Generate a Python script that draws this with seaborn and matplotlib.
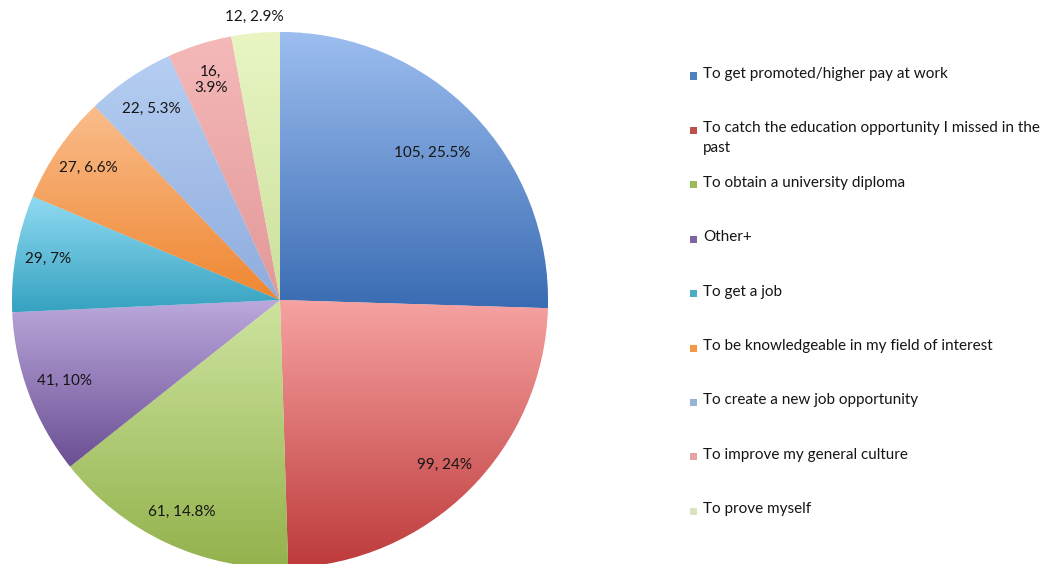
#Pie chart of the reasons people gave for going back to study
import numpy as np
import matplotlib
matplotlib.use("Agg")
import matplotlib.pyplot as plt
from matplotlib.colors import LinearSegmentedColormap
from matplotlib.patches import Rectangle
import seaborn as sns

#the data
reasons = ["To get promoted/higher pay at work",
           "To catch the education opportunity I missed in the\npast",
           "To obtain a university diploma",
           "Other+",
           "To get a job",
           "To be knowledgeable in my field of interest",
           "To create a new job opportunity",
           "To improve my general culture",
           "To prove myself"]
counts = [105, 99, 61, 41, 29, 27, 22, 16, 12]
percents = [25.5, 24, 14.8, 10, 7, 6.6, 5.3, 3.9, 2.9]

#colours: legend colour plus a light (top) and dark (bottom) gradient colour for every slice
legend_colors = ["#4F81BD", "#C0504D", "#9BBB59", "#8064A2", "#4BACC6",
                 "#F79646", "#95B3D7", "#E6A3A3", "#D7E4BD"]
top_colors = ["#9DBEF0", "#F6A3A1", "#CDE4A0", "#BBA8DC", "#90DAF2",
              "#FABD8C", "#B6CEF2", "#F5B9B9", "#E9F6C4"]
bottom_colors = ["#3A6CB3", "#BE3A3B", "#93B24C", "#6A4F93", "#36A2C0",
                 "#EF8630", "#8EACDD", "#E39899", "#CBE09B"]

sns.set_theme(style="white")
plt.rcParams['font.family'] = ['Lato', 'DejaVu Sans']

fig = plt.figure(figsize=(10.51, 5.64), dpi=100)
W, H = 1051, 564

#pie centre and radius in pixels
cx, cy, r = 280, 300, 268
ax = fig.add_axes([(cx - r) / W, (H - cy - r) / H, 2 * r / W, 2 * r / H])

def label_text(c, p):
    s = f"{p:g}"
    return f"{c}, {s}%"

wedges, _ = ax.pie(counts, startangle=90, counterclock=False, radius=1,
                   wedgeprops=dict(edgecolor="white", linewidth=0.6))

#fill each slice with a vertical gradient clipped to the slice
for w, ctop, cbot in zip(wedges, top_colors, bottom_colors):
    w.set_facecolor(cbot)
    bb = w.get_path().get_extents()
    cmap = LinearSegmentedColormap.from_list("g", [cbot, ctop])
    grad = np.linspace(0, 1, 256).reshape(256, 1)
    im = ax.imshow(grad, extent=[bb.x0, bb.x1, bb.y0, bb.y1], origin="lower",
                   cmap=cmap, aspect="auto", zorder=2)
    im.set_clip_path(w)

#slice labels
label_r = [0.79, 0.87, 0.87, 0.86, 0.88, 0.87, 0.86, 0.86, 1.06]
for i, w in enumerate(wedges):
    ang = np.deg2rad((w.theta1 + w.theta2) / 2)
    txt = label_text(counts[i], percents[i])
    if counts[i] == 16:
        txt = txt.replace(" ", "\n")
    ax.text(label_r[i] * np.cos(ang), label_r[i] * np.sin(ang), txt,
            ha="center", va="center", fontsize=11, color="#151515", zorder=5)

ax.set_xlim(-1, 1)
ax.set_ylim(-1, 1)
ax.set_aspect("equal")
ax.axis("off")

#legend drawn by hand so the wrapped entry keeps the even spacing
leg_x, leg_y0, leg_step = 690, 76, 54.4
for i, (lab, col) in enumerate(zip(reasons, legend_colors)):
    y = leg_y0 + i * leg_step
    fig.add_artist(Rectangle((leg_x / W, (H - y - 3.5) / H), 7 / W, 7 / H,
                             transform=fig.transFigure, facecolor=col,
                             edgecolor="none"))
    fig.text((leg_x + 13) / W, (H - y + 9) / H, lab, ha="left", va="top",
             fontsize=11, color="#151515", linespacing=1.55)

plt.savefig("out.png", dpi=100)
plt.close()
